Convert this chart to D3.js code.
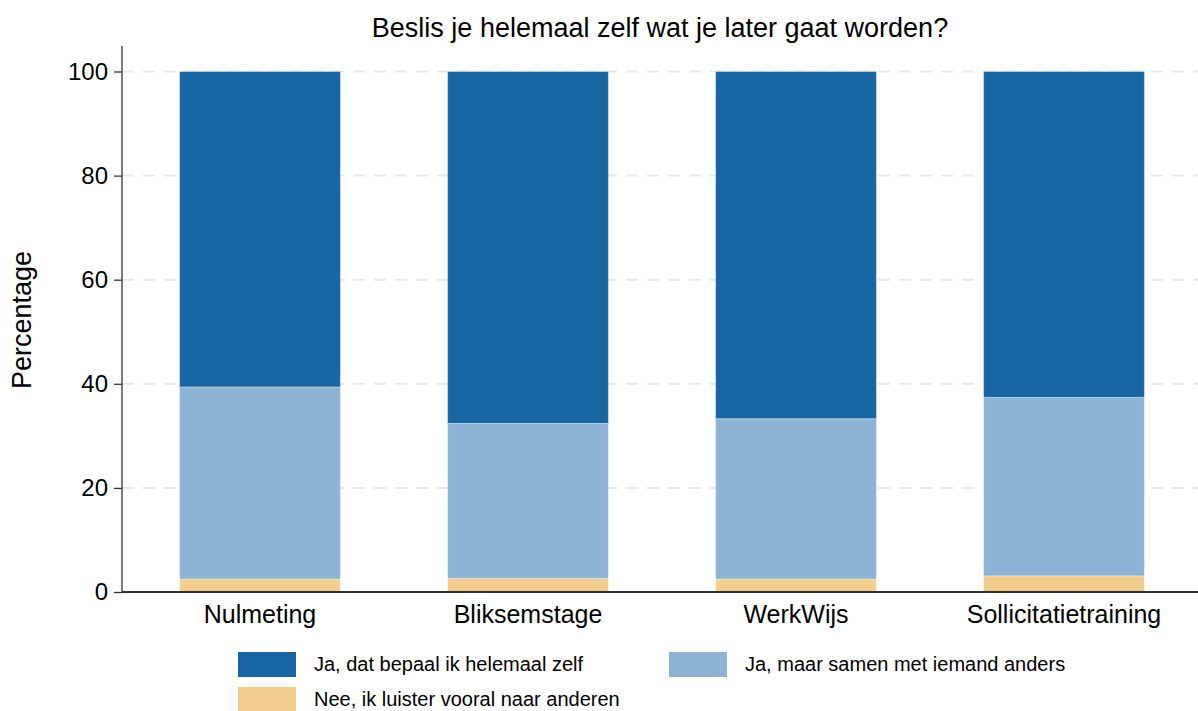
<!DOCTYPE html>
<html>
<head>
<meta charset="utf-8">
<script src="https://cdn.jsdelivr.net/npm/d3@7"></script>
<style>
  body { margin: 0; background: #fff; }
  svg { font-family: "Liberation Sans", Arial, sans-serif; }
</style>
</head>
<body>
<div id="chart"></div>
<script>
// categorieën en waarden (percentages)
const categories = ["Nulmeting", "Bliksemstage", "WerkWijs", "Sollicitatietraining"];
const seriesNames = ["Nee, ik luister vooral naar anderen", "Ja, maar samen met iemand anders", "Ja, dat bepaal ik helemaal zelf"];
const neeValues = [2.5, 2.6, 2.5, 3.1];
const samenValues = [36.9, 29.8, 30.8, 34.3];
const zelfValues = [60.6, 67.6, 66.7, 62.6];
const yTicks = [0, 20, 40, 60, 80, 100];
const colors = ["#f1cc8d", "#8db3d4", "#1765a3"];

const width = 1198, height = 711;
const margin = { top: 46, right: 0, bottom: 119, left: 122 };

const svg = d3.select("#chart").append("svg")
  .attr("width", width)
  .attr("height", height);

// tabel voor d3.stack
const table = categories.map((c, i) => ({
  cat: c,
  nee: neeValues[i],
  samen: samenValues[i],
  zelf: zelfValues[i]
}));
const stack = d3.stack().keys(["nee", "samen", "zelf"]);
const series = stack(table);

const y = d3.scaleLinear().domain([0, 100]).range([592, 71.5]);
const x = d3.scaleBand().domain(categories).range([126, 1198]).paddingInner(0.4).paddingOuter(0.2);

// rasterlijnen
svg.append("g").selectAll("line")
  .data(yTicks.filter(t => t > 0))
  .enter().append("line")
  .attr("x1", margin.left)
  .attr("x2", width)
  .attr("y1", d => y(d))
  .attr("y2", d => y(d))
  .attr("stroke", "#e8e8e8")
  .attr("stroke-width", 2)
  .attr("stroke-dasharray", "12,9");

// gestapelde staven
svg.append("g").selectAll("g")
  .data(series)
  .enter().append("g")
  .attr("fill", (d, i) => colors[i])
  .selectAll("rect")
  .data(d => d)
  .enter().append("rect")
  .attr("x", d => x(d.data.cat))
  .attr("width", x.bandwidth())
  .attr("y", d => y(d[1]))
  .attr("height", d => y(d[0]) - y(d[1]))
  .attr("stroke", "rgba(255,255,255,0.35)")
  .attr("stroke-width", 1);

// y-as
const yAxis = svg.append("g")
  .attr("transform", "translate(" + margin.left + ",0)")
  .call(d3.axisLeft(y).tickValues(yTicks).tickSize(8).tickPadding(6));
yAxis.select(".domain").attr("d", "M0,46V592").attr("stroke", "#333").attr("stroke-width", 1.3);
yAxis.selectAll(".tick line").attr("stroke", "#333").attr("stroke-width", 1.3);
yAxis.selectAll("text").attr("font-size", 24).attr("fill", "#000")
  .attr("font-family", "Liberation Sans, Arial, sans-serif");

// x-as
const xAxis = svg.append("g")
  .attr("transform", "translate(0,592)")
  .call(d3.axisBottom(x).tickSize(0).tickPadding(13));
xAxis.select(".domain").attr("d", "M" + margin.left + ",0H" + width).attr("stroke", "#333").attr("stroke-width", 2);
xAxis.selectAll("text").attr("font-size", 25).attr("fill", "#000")
  .attr("font-family", "Liberation Sans, Arial, sans-serif");

// titel
svg.append("text")
  .attr("x", 660)
  .attr("y", 37)
  .attr("text-anchor", "middle")
  .attr("font-size", 27)
  .text("Beslis je helemaal zelf wat je later gaat worden?");

// y-label
svg.append("text")
  .attr("transform", "translate(31,320) rotate(-90)")
  .attr("text-anchor", "middle")
  .attr("font-size", 27)
  .text("Percentage");

// legenda
const legendItems = [
  { name: seriesNames[2], color: colors[2], x: 238, y: 652 },
  { name: seriesNames[1], color: colors[1], x: 669, y: 652 },
  { name: seriesNames[0], color: colors[0], x: 238, y: 687 }
];
const legend = svg.append("g").selectAll("g")
  .data(legendItems)
  .enter().append("g")
  .attr("transform", d => "translate(" + d.x + "," + d.y + ")");
legend.append("rect")
  .attr("width", 58)
  .attr("height", 25)
  .attr("fill", d => d.color);
legend.append("text")
  .attr("x", 76)
  .attr("y", 19)
  .attr("font-size", 20)
  .text(d => d.name);
</script>
</body>
</html>
